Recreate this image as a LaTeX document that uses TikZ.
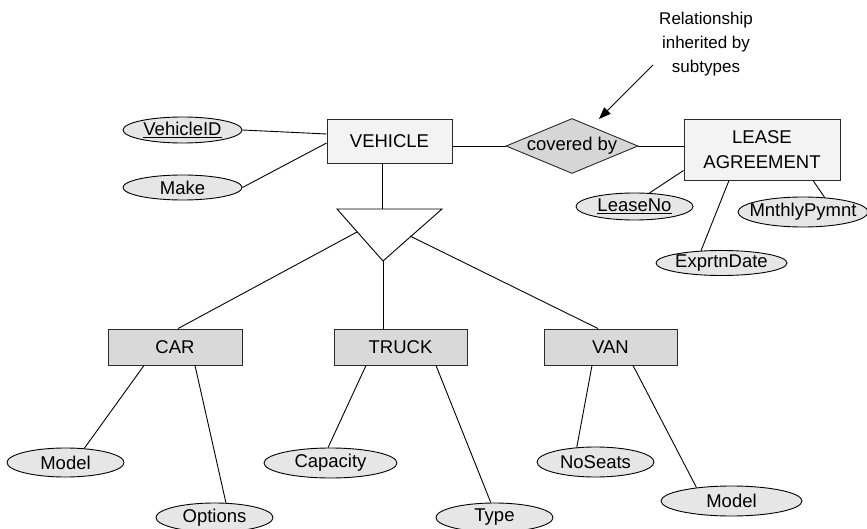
\documentclass[tikz,border=0pt]{standalone}
\usepackage{fontspec}
\setmainfont{Liberation Sans}
\usetikzlibrary{shapes.geometric,arrows.meta,calc}
\definecolor{superfill}{HTML}{F3F3F3}
\definecolor{subfill}{HTML}{D9D9D9}
\definecolor{relfill}{HTML}{D6D6D6}
\definecolor{attrfill}{HTML}{E6E6E6}
\definecolor{edgecol}{HTML}{2A2A2A}
\newcommand{\attrtext}[1]{\makebox[0pt]{#1}}
\begin{document}
\begin{tikzpicture}[x=1pt,y=-1pt,
  every node/.style={font=\fontsize{18.5}{21}\selectfont, inner sep=0pt},
  superbox/.style={draw=edgecol, line width=0.9pt, fill=superfill},
  subbox/.style={draw=edgecol, line width=0.9pt, fill=subfill, minimum width=133pt, minimum height=36pt},
  relshape/.style={diamond, draw=edgecol, line width=0.9pt, fill=relfill, aspect=2.4, minimum width=132pt, minimum height=55pt},
  attr/.style={ellipse, draw=black, line width=0.9pt, fill=attrfill},
  link/.style={draw=black, line width=0.9pt},
  isa/.style={draw=black, line width=0.9pt, fill=white, line join=miter}
]
\useasboundingbox (0,0) rectangle (867,529);

% supertype, relationship and related entity
\node[superbox, minimum width=125pt, minimum height=44pt] (veh) at (389.5,141) {VEHICLE};
\node[relshape] (rel) at (572,146) {covered by};
\node[superbox, minimum width=156pt, minimum height=61pt, align=center,
      font=\fontsize{18.5}{25}\selectfont] (lease) at (762,149.5) {LEASE\\AGREEMENT};

% attributes of VEHICLE
\node[attr, minimum width=119pt, minimum height=26pt] (vid) at (182.5,130) {\attrtext{\underline{VehicleID}}};
\node[attr, minimum width=119pt, minimum height=25pt] (make) at (182.5,187.5) {\attrtext{Make}};

% attributes of LEASE AGREEMENT
\node[attr, minimum width=117pt, minimum height=27pt] (lno) at (634.5,206.5) {\attrtext{\underline{LeaseNo}}};
\node[attr, minimum width=130pt, minimum height=30pt] (pay) at (803,212) {\attrtext{MnthlyPymnt}};
\node[attr, minimum width=131pt, minimum height=25pt] (exd) at (721.5,263) {\attrtext{ExprtnDate}};

% annotation
\node[align=center, font=\fontsize{17}{24}\selectfont] (note) at (706,44) {Relationship\\inherited by\\subtypes};
\coordinate (notefrom) at (653,65);
\coordinate (noteto) at (599,119);

% subtypes
\node[subbox, minimum width=134pt] (car) at (175,347) {CAR};
\node[subbox] (truck) at (400.5,347) {TRUCK};
\node[subbox] (van) at (610.5,347) {VAN};

% attributes of subtypes
\node[attr, minimum width=117pt, minimum height=29pt] (cmodel) at (65.5,462.5) {\attrtext{Model}};
\node[attr, minimum width=117pt, minimum height=29pt] (opt) at (214.5,517.5) {\attrtext{Options}};
\node[attr, minimum width=133pt, minimum height=30pt] (cap) at (330.5,463) {\attrtext{Capacity}};
\node[attr, minimum width=117pt, minimum height=29pt] (type) at (494.5,517.5) {\attrtext{Type}};
\node[attr, minimum width=117pt, minimum height=30pt] (seats) at (595.5,462) {\attrtext{NoSeats}};
\node[attr, minimum width=141pt, minimum height=30pt] (vmodel) at (731.5,501) {\attrtext{Model}};

% subtype triangle
\coordinate (tl) at (337,209);
\coordinate (tr) at (442,209);
\coordinate (tapex) at (383,261);
\coordinate (ttop) at (382,209);
\coordinate (tleft) at (357,232);
\coordinate (tright) at (410,236);
\draw[isa] (tl) -- (tr) -- (tapex) -- cycle;

% connectors
\draw[link] (vid.east) -- ([yshift=7pt]veh.west);
\draw[link] (make.east) -- ([yshift=-2pt]veh.west);
\draw[link] ([xshift=-7.5pt]veh.south) -- (ttop);
\draw[link] (rel.west -| veh.east) -- (rel.west);
\draw[link] (rel.east) -- (rel.east -| lease.west);
\draw[link, -{Triangle[length=12pt,width=9pt]}] (notefrom) -- (noteto);

\draw[link] (lno.42) -- ([yshift=10pt]lease.south west);
\draw[link] (exd.149) -- ([xshift=-33pt]lease.south);
\draw[link] (pay.34) -- ([xshift=51pt]lease.south);

\draw[link] (tleft) -- ([xshift=3pt]car.north);
\draw[link] (tapex) -- (tapex |- truck.north);
\draw[link] (tright) -- ([xshift=-12.5pt]van.north);

\draw[link] ([xshift=-31pt]car.south) -- (cmodel.37);
\draw[link] ([xshift=20pt]car.south) -- (opt.52);
\draw[link] ([xshift=-34.5pt]truck.south) -- (cap.99);
\draw[link] ([xshift=35.5pt]truck.south) -- (type.104);
\draw[link] ([xshift=-18.5pt]van.south) -- (seats.142);
\draw[link] ([xshift=22.5pt]van.south) -- (vmodel.159);
\end{tikzpicture}
\end{document}
